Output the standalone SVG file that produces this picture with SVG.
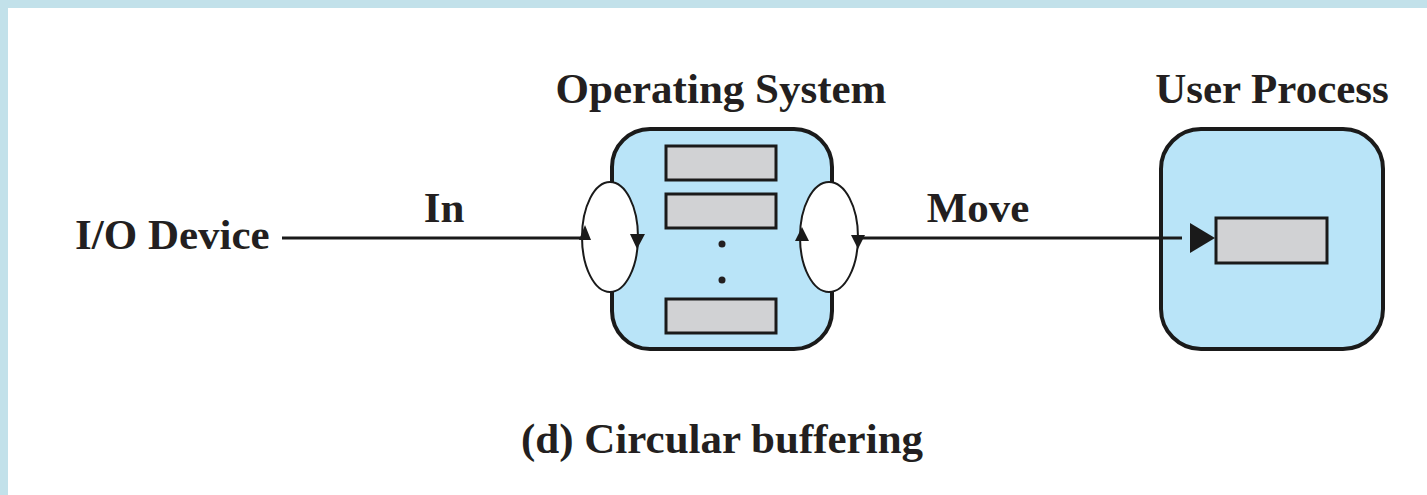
<svg xmlns="http://www.w3.org/2000/svg" width="1427" height="495" viewBox="0 0 1427 495">
  <style>
    .lbl { font-family: "Liberation Serif", "Times New Roman", serif; font-weight: bold; font-size: 43px; fill: #231f20; }
    .box { fill: #b9e4f8; stroke: #1a1a1a; stroke-width: 4; }
    .buf { fill: #d1d2d4; stroke: #1a1a1a; stroke-width: 3; }
    .ring { fill: #ffffff; stroke: #1a1a1a; stroke-width: 2; }
    .wire { stroke: #1a1a1a; stroke-width: 3; fill: none; }
    .head { fill: #1a1a1a; }
  </style>

  <!-- frame -->
  <rect x="0" y="0" width="1427" height="495" fill="#ffffff"/>
  <rect x="0" y="0" width="1427" height="8" fill="#c2e1ea"/>
  <rect x="0" y="0" width="8" height="495" fill="#c2e1ea"/>

  <!-- I/O device label -->
  <g id="io-device">
    <text class="lbl" x="75" y="249">I/O Device</text>
  </g>

  <g id="label-in">
    <text class="lbl" x="444" y="222" text-anchor="middle">In</text>
  </g>
  <g id="label-move">
    <text class="lbl" x="978" y="222" text-anchor="middle">Move</text>
  </g>

  <!-- operating system with circular buffer -->
  <g id="operating-system">
    <text class="lbl" x="721" y="103" text-anchor="middle">Operating System</text>
    <rect class="box" x="612" y="129" width="220" height="220" rx="38" ry="38"/>
    <rect class="buf" x="666" y="146" width="110" height="34"/>
    <rect class="buf" x="666" y="194" width="110" height="34"/>
    <circle cx="722" cy="244" r="3.5" fill="#231f20"/>
    <circle cx="722" cy="280" r="3.5" fill="#231f20"/>
    <rect class="buf" x="666" y="299" width="110" height="34"/>
    <!-- input ring -->
    <ellipse class="ring" cx="610" cy="237" rx="28" ry="55"/>
    <polygon class="head" points="585,225 579,240 591,240"/>
    <polygon class="head" points="637,249 630,234 645,234"/>
    <!-- output ring -->
    <ellipse class="ring" cx="829" cy="237" rx="29" ry="55"/>
    <polygon class="head" points="802,227 795,241 809,241"/>
    <polygon class="head" points="858,249 851,235 865,235"/>
  </g>

  <!-- user process -->
  <g id="user-process">
    <text class="lbl" x="1272" y="103" text-anchor="middle">User Process</text>
    <rect class="box" x="1161" y="129" width="222" height="220" rx="40" ry="40"/>
    <rect class="buf" x="1216" y="218" width="111" height="45"/>
  </g>

  <!-- connectors, drawn last so they sit on top of the boxes -->
  <g id="connectors">
    <line class="wire" x1="282" y1="238" x2="583" y2="238"/>
    <line class="wire" x1="857" y1="238" x2="1182" y2="238"/>
    <polygon class="head" points="1190,223 1190,253 1215,238"/>
  </g>

  <!-- caption -->
  <g id="caption">
    <text class="lbl" x="722" y="453" text-anchor="middle">(d) Circular buffering</text>
  </g>
</svg>
